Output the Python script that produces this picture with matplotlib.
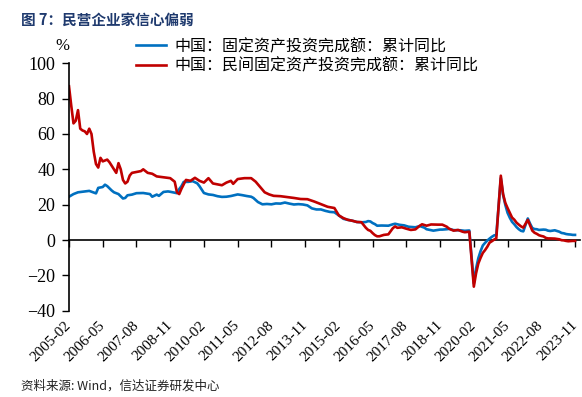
import matplotlib
matplotlib.use("Agg")
import matplotlib.pyplot as plt

# 中国:固定资产投资完成额:累计同比 (%)
fai_dates = ["2005-02", "2005-04", "2005-06", "2005-09", "2005-11", "2006-02", "2006-03", "2006-05",
             "2006-06", "2006-07", "2006-09", "2006-10", "2006-12", "2007-02", "2007-03", "2007-04",
             "2007-06", "2007-08", "2007-11", "2008-02", "2008-03", "2008-05", "2008-06", "2008-08",
             "2008-10", "2008-11", "2009-02", "2009-03", "2009-04", "2009-05", "2009-07", "2009-09",
             "2009-11", "2009-12", "2010-02", "2010-04", "2010-06", "2010-08", "2010-10", "2010-12",
             "2011-02", "2011-05", "2011-07", "2011-09", "2011-11", "2011-12", "2012-02", "2012-04",
             "2012-06", "2012-08", "2012-10", "2012-12", "2013-02", "2013-04", "2013-06", "2013-08",
             "2013-10", "2013-12", "2014-02", "2014-04", "2014-06", "2014-08", "2014-10", "2014-12",
             "2015-02", "2015-04", "2015-06", "2015-08", "2015-10", "2015-12", "2016-02", "2016-03",
             "2016-04", "2016-05", "2016-06", "2016-07", "2016-09", "2016-12", "2017-02", "2017-03",
             "2017-05", "2017-07", "2017-09", "2017-12", "2018-02", "2018-04", "2018-05", "2018-08",
             "2018-11", "2018-12", "2019-02", "2019-03", "2019-05", "2019-08", "2019-10", "2019-12",
             "2020-02", "2020-03", "2020-04", "2020-05", "2020-06", "2020-07", "2020-08", "2020-09",
             "2020-10", "2020-11", "2020-12", "2021-02", "2021-03", "2021-04", "2021-05", "2021-06",
             "2021-07", "2021-08", "2021-09", "2021-10", "2021-11", "2021-12", "2022-02", "2022-03",
             "2022-04", "2022-05", "2022-06", "2022-07", "2022-08", "2022-09", "2022-10", "2022-11",
             "2022-12", "2023-02", "2023-03", "2023-04", "2023-05", "2023-06", "2023-07", "2023-08",
             "2023-09", "2023-10", "2023-11"]
fai_vals = [24.5, 26.0, 27.0, 27.5, 27.8, 26.4, 29.5, 30.0,
            31.3, 30.5, 28.0, 27.0, 26.0, 23.5, 23.8, 25.3,
            25.7, 26.5, 26.6, 26.0, 24.5, 25.7, 25.0, 27.2,
            27.5, 27.3, 26.5, 28.8, 30.5, 32.9, 32.9, 33.3,
            32.1, 30.5, 26.6, 25.8, 25.5, 24.8, 24.4, 24.5,
            24.9, 25.8, 25.4, 24.9, 24.5, 23.8, 21.5, 20.2,
            20.4, 20.2, 20.7, 20.6, 21.2, 20.6, 20.1, 20.3,
            20.1, 19.6, 17.9, 17.3, 17.3, 16.5, 15.9, 15.7,
            13.9, 12.0, 11.4, 10.9, 10.2, 10.0, 10.2, 10.7,
            10.5, 9.6, 9.0, 8.1, 8.2, 8.1, 8.9, 9.2,
            8.6, 8.3, 7.5, 7.2, 7.9, 7.0, 6.1, 5.3,
            5.9, 5.9, 6.1, 6.3, 5.6, 5.5, 5.2, 5.4,
            -24.5, -16.1, -10.3, -6.3, -3.1, -1.6, -0.3, 0.8,
            1.8, 2.6, 2.9, 35.0, 25.6, 19.9, 15.4, 12.6,
            10.3, 8.9, 7.3, 6.1, 5.2, 4.9, 12.2, 9.3,
            6.8, 6.2, 6.1, 5.7, 5.8, 5.9, 5.8, 5.3,
            5.1, 5.5, 5.1, 4.7, 4.0, 3.8, 3.4, 3.2,
            3.1, 2.9, 2.9]

# 中国:民间固定资产投资完成额:累计同比 (%)
pri_dates = ["2005-02", "2005-03", "2005-04", "2005-05", "2005-06", "2005-07", "2005-08", "2005-09",
             "2005-10", "2005-11", "2005-12", "2006-01", "2006-02", "2006-03", "2006-04", "2006-05",
             "2006-06", "2006-07", "2006-08", "2006-09", "2006-10", "2006-11", "2006-12", "2007-01",
             "2007-02", "2007-03", "2007-04", "2007-05", "2007-06", "2007-08", "2007-10", "2007-11",
             "2008-01", "2008-03", "2008-05", "2008-08", "2008-11", "2009-01", "2009-02", "2009-03",
             "2009-04", "2009-06", "2009-08", "2009-10", "2009-12", "2010-02", "2010-04", "2010-06",
             "2010-08", "2010-10", "2010-12", "2011-02", "2011-03", "2011-05", "2011-08", "2011-11",
             "2012-01", "2012-03", "2012-05", "2012-07", "2012-09", "2012-12", "2013-03", "2013-06",
             "2013-09", "2013-12", "2014-03", "2014-06", "2014-09", "2014-12", "2015-02", "2015-04",
             "2015-06", "2015-08", "2015-10", "2015-12", "2016-02", "2016-03", "2016-04", "2016-05",
             "2016-06", "2016-07", "2016-08", "2016-09", "2016-10", "2016-12", "2017-02", "2017-03",
             "2017-04", "2017-06", "2017-08", "2017-10", "2017-12", "2018-02", "2018-03", "2018-05",
             "2018-07", "2018-10", "2018-12", "2019-02", "2019-03", "2019-05", "2019-07", "2019-09",
             "2019-10", "2019-12", "2020-02", "2020-03", "2020-04", "2020-05", "2020-06", "2020-07",
             "2020-08", "2020-09", "2020-10", "2020-11", "2020-12", "2021-02", "2021-03", "2021-04",
             "2021-05", "2021-06", "2021-07", "2021-08", "2021-09", "2021-10", "2021-11", "2021-12",
             "2022-02", "2022-03", "2022-04", "2022-05", "2022-06", "2022-07", "2022-08", "2022-09",
             "2022-10", "2022-11", "2022-12", "2023-02", "2023-03", "2023-04", "2023-05", "2023-06",
             "2023-07", "2023-08", "2023-09", "2023-10", "2023-11"]
pri_vals = [87.0, 76.0, 66.0, 67.5, 73.5, 63.0, 62.0, 61.5,
            60.0, 63.0, 60.0, 50.0, 43.0, 41.0, 46.5, 44.5,
            45.0, 45.5, 44.0, 42.0, 40.0, 38.0, 43.5, 40.0,
            34.0, 32.0, 33.0, 36.5, 38.0, 38.5, 39.0, 40.0,
            38.0, 37.5, 36.0, 35.5, 35.0, 33.0, 27.0, 26.0,
            29.0, 34.0, 33.5, 35.2, 33.5, 32.5, 35.0, 32.0,
            31.5, 31.0, 32.5, 33.5, 31.8, 34.5, 35.0, 35.0,
            33.0, 30.0, 27.0, 25.8, 25.0, 24.8, 24.3, 23.8,
            23.2, 23.1, 21.8, 20.3, 18.8, 18.1, 13.9, 12.4,
            11.4, 10.9, 10.2, 10.1, 6.9, 5.7, 5.2, 3.9,
            2.8, 2.1, 2.1, 2.5, 2.9, 3.2, 6.7, 7.7,
            6.9, 7.2, 6.4, 5.7, 6.0, 8.1, 8.9, 8.1,
            8.8, 8.7, 8.7, 7.5, 6.4, 5.3, 5.7, 4.7,
            4.4, 4.7, -26.4, -18.8, -13.3, -10.1, -7.3, -5.7,
            -3.8, -1.5, -0.7, 0.2, 1.0, 36.4, 26.0, 21.0,
            18.1, 15.4, 12.7, 11.5, 9.8, 8.7, 7.7, 7.0,
            11.4, 8.4, 5.3, 4.1, 3.5, 2.7, 2.3, 2.0,
            1.2, 0.9, 0.9, 0.8, 0.6, 0.4, -0.1, -0.2,
            -0.5, -0.7, -0.6, -0.5, -0.5]

tick_labels = ["2005-02", "2006-05", "2007-08", "2008-11", "2010-02", "2011-05", "2012-08", "2013-11",
               "2015-02", "2016-05", "2017-08", "2018-11", "2020-02", "2021-05", "2022-08", "2023-11"]

fai_name = "中国：固定资产投资完成额：累计同比"
pri_name = "中国：民间固定资产投资完成额：累计同比"


def month_index(s):
    y, m = s.split("-")
    return (int(y) - 2005) * 12 + int(m) - 2


cjk = ["Noto Sans CJK SC", "DejaVu Sans"]
plt.rcParams["font.family"] = "serif"
plt.rcParams["font.serif"] = ["Liberation Serif", "DejaVu Serif"]

fig = plt.figure(figsize=(5.82, 3.97), dpi=100)
W, H = 582, 397
x0, x1 = 69, 69 + 227 * 2.249
y_top, y_bot = 63.3, 310.7
ax = fig.add_axes([x0 / W, 1 - y_bot / H, (x1 - x0) / W, (y_bot - y_top) / H])

ax.plot([month_index(d) for d in fai_dates], fai_vals, color="#0070C0", lw=1.9, label=fai_name)
ax.plot([month_index(d) for d in pri_dates], pri_vals, color="#C00000", lw=1.9, label=pri_name)

ax.set_xlim(0, 227)
ax.set_ylim(-40, 100)
ax.set_yticks(range(-40, 101, 20))
ax.tick_params(axis="y", direction="out", length=5, width=1, labelsize=13, pad=5)

ticks = [month_index(t) for t in tick_labels]
ax.set_xticks(ticks)
ax.set_xticklabels(tick_labels, rotation=45, ha="right", va="center", rotation_mode="anchor", fontsize=11)
ax.tick_params(axis="x", length=0, pad=9)

for s in ["top", "right", "bottom"]:
    ax.spines[s].set_visible(False)
ax.spines["left"].set_linewidth(1.2)

# x axis line drawn at zero
zero_ax = ax.secondary_xaxis(40 / 140)
zero_ax.set_xticks(ticks)
zero_ax.tick_params(axis="x", direction="out", length=5, width=1, labelbottom=False)
zero_ax.spines["bottom"].set_linewidth(1.2)

leg = ax.legend(loc="upper left", bbox_to_anchor=(136 / W, 1 - 38 / H),
                bbox_transform=fig.transFigure, frameon=False, prop={"family": cjk, "size": 11.5},
                handlelength=1.9, handletextpad=0.5, labelspacing=0.15, borderpad=0, borderaxespad=0)

fig.text(62 / W, 1 - 46 / H, "%", fontsize=12, ha="center", va="center")
fig.text(21 / W, 1 - 20 / H, "图 7：民营企业家信心偏弱", family=cjk, fontsize=10.5, fontweight="bold",
         color="#1F3A6E", ha="left", va="center")
fig.text(21 / W, 1 - 386 / H, "资料来源: Wind，信达证券研发中心", family=cjk, fontsize=9,
         color="#222222", ha="left", va="center")

fig.savefig("out.png", dpi=100)
